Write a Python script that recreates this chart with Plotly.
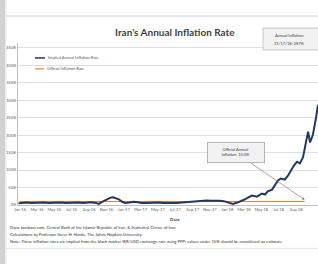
import plotly.graph_objects as go

# ---------------- data ----------------
implied_dates = [
    "2015-12-27", "2016-01-10", "2016-01-25", "2016-02-10", "2016-02-25", "2016-03-10",
    "2016-03-25", "2016-04-10", "2016-04-25", "2016-05-10", "2016-05-25", "2016-06-10",
    "2016-06-25", "2016-07-10", "2016-07-25", "2016-08-10", "2016-08-25", "2016-09-10",
    "2016-09-25", "2016-10-05", "2016-10-15", "2016-10-25", "2016-11-05", "2016-11-15",
    "2016-11-25", "2016-12-05", "2016-12-15", "2016-12-25", "2017-01-05", "2017-01-20",
    "2017-02-05", "2017-02-20", "2017-03-05", "2017-03-20", "2017-04-05", "2017-04-20",
    "2017-05-05", "2017-05-20", "2017-06-05", "2017-06-20", "2017-07-05", "2017-07-20",
    "2017-08-05", "2017-08-20", "2017-09-05", "2017-09-20", "2017-10-05", "2017-10-20",
    "2017-11-05", "2017-11-20", "2017-12-05", "2017-12-20", "2018-01-05", "2018-01-21",
    "2018-02-05", "2018-02-15", "2018-03-01", "2018-03-15", "2018-03-29", "2018-04-16",
    "2018-05-03", "2018-05-14", "2018-05-24", "2018-06-08", "2018-06-18", "2018-06-29",
    "2018-07-09", "2018-07-23", "2018-08-03", "2018-08-14", "2018-08-24", "2018-09-04",
    "2018-09-14", "2018-09-25", "2018-10-05", "2018-10-13", "2018-10-20", "2018-10-30",
    "2018-11-10", "2018-11-17",
]
implied_values = [
    5, 6, 7, 6, 7, 8,
    7, 6, 7, 8, 7, 6,
    7, 8, 7, 6, 7, 8,
    6, 3, 8, 13, 17, 21,
    22, 19, 16, 10, 6, 7,
    9, 8, 6, 6, 7, 6,
    7, 6, 7, 6, 6, 7,
    7, 8, 9, 10, 12, 13,
    12, 13, 12, 11, 8, 3,
    7, 10, 15, 21, 27, 24,
    33, 30, 39, 44, 56, 70,
    76, 73, 84, 101, 113, 124,
    119, 136, 173, 210, 179, 201,
    250, 287,
]

official_dates = [
    "2016-01-01", "2016-02-01", "2016-03-01", "2016-04-01", "2016-05-01", "2016-06-01",
    "2016-07-01", "2016-08-01", "2016-09-01", "2016-10-01", "2016-11-01", "2016-12-01",
    "2017-01-01", "2017-02-01", "2017-03-01", "2017-04-01", "2017-05-01", "2017-06-01",
    "2017-07-01", "2017-08-01", "2017-09-01", "2017-10-01", "2017-11-01", "2017-12-01",
    "2018-01-01", "2018-02-01", "2018-03-01", "2018-04-01", "2018-05-01", "2018-06-01",
    "2018-07-01", "2018-08-01", "2018-09-01", "2018-10-01",
]
official_values = [
    10, 10, 9, 9, 9, 9,
    9, 9, 9, 9, 9, 9,
    9, 9, 9, 9, 9, 9,
    9, 9, 9, 9, 9, 9,
    9, 9, 9, 9, 9, 10,
    10, 10, 10, 10,
]

y_tick_values = [0, 50, 100, 150, 200, 250, 300, 350, 400, 450]
y_tick_labels = ["0%", "50%", "100%", "150%", "200%", "250%", "300%", "350%", "400%", "450%"]
legend_labels = ["Implied Annual Inflation Rate", "Official Inflation Rate"]

title_text = "Iran's Annual Inflation Rate"
latest_box_lines = ["Annual Inflation:", "11/17/18: 287%"]
official_box_lines = ["Official Annual", "Inflation: 10.0%"]
axis_title = "Date"
source_lines = [
    "Data: bonbast.com, Central Bank of the Islamic Republic of Iran, & Statistical Centre of Iran",
    "Calculations by Professor Steve H. Hanke, The Johns Hopkins University.",
    "Note: These inflation rates are implied from the black market IRR/USD exchange rate using PPP; values under 15% should be considered an estimate.",
]

# ---------------- layout helpers ----------------
W, H = 318, 264
L, R, T, B = 18, 0, 43, 58.5
PW, PH = W - L - R, H - T - B
FONT = "Lato, 'Open Sans', sans-serif"


def fx(px):
    return (px - L) / PW


def fy(py):
    return (H - B - py) / PH


fig = go.Figure()
fig.add_trace(go.Scatter(x=official_dates, y=official_values, mode="lines",
                         line=dict(color="#ED7D31", width=1.1), name=legend_labels[1],
                         hoverinfo="skip"))
fig.add_trace(go.Scatter(x=implied_dates, y=implied_values, mode="lines",
                         line=dict(color="#1F3864", width=2), name=legend_labels[0],
                         hoverinfo="skip"))

shapes = []
# page edge bar on the left
shapes.append(dict(type="rect", xref="paper", yref="paper", x0=fx(0), x1=fx(5), y0=fy(H + 2), y1=fy(-2),
                   fillcolor="#d2d2d2", line=dict(width=0), layer="above"))
shapes.append(dict(type="rect", xref="paper", yref="paper", x0=fx(5), x1=fx(6.5), y0=fy(H + 2), y1=fy(-2),
                   fillcolor="#ececec", line=dict(width=0), layer="above"))
# top and bottom separator lines
shapes.append(dict(type="line", xref="paper", yref="paper", x0=fx(6), x1=fx(W + 2), y0=fy(16), y1=fy(16),
                   line=dict(color="#cfcfcf", width=1)))
shapes.append(dict(type="line", xref="paper", yref="paper", x0=fx(6), x1=fx(W + 2), y0=fy(249), y1=fy(249),
                   line=dict(color="#e6e6e6", width=1)))
# top-right box
shapes.append(dict(type="rect", xref="paper", yref="paper", x0=fx(263), x1=fx(W + 5), y0=fy(50), y1=fy(28),
                   fillcolor="#f2f2f2", line=dict(color="#bdbdbd", width=0.8)))
# legend samples
shapes.append(dict(type="line", xref="paper", yref="paper", x0=fx(35), x1=fx(45), y0=fy(58), y1=fy(58),
                   line=dict(color="#1F3864", width=1.5)))
shapes.append(dict(type="line", xref="paper", yref="paper", x0=fx(35), x1=fx(44), y0=fy(69), y1=fy(69),
                   line=dict(color="#ED7D31", width=1.2)))

annotations = []


def txt(px, py, text, size, color="#404040", anchor="center", bold=False):
    annotations.append(dict(xref="paper", yref="paper", x=fx(px), y=fy(py), text=f"<b>{text}</b>" if bold else text,
                            showarrow=False, xanchor=anchor, yanchor="middle",
                            font=dict(family=FONT, size=size, color=color)))


txt(175, 32, title_text, 10, "#3f3f3f", bold=True)
txt(289, 35, latest_box_lines[0], 4, "#404040")
txt(289, 44, latest_box_lines[1], 4, "#404040")
txt(46, 58, legend_labels[0], 4, "#595959", anchor="left")
txt(45, 69, legend_labels[1], 4, "#595959", anchor="left")
txt(175, 220, axis_title, 4.5, "#404040", bold=True)
txt(8, 228, source_lines[0], 4.2, "#333333", anchor="left")
txt(8, 235, source_lines[1], 4.2, "#333333", anchor="left")
txt(8, 242, source_lines[2], 4.2, "#333333", anchor="left")

# callout pointing to the end of the official series
annotations.append(dict(x=official_dates[-1], y=official_values[-1] + 5, xref="x", yref="y",
                        text=official_box_lines[0] + "<br>" + official_box_lines[1],
                        showarrow=True, ax=-69, ay=-47, arrowhead=2, arrowsize=0.7, arrowwidth=0.7,
                        arrowcolor="#7f7f7f", standoff=0,
                        bgcolor="#f2f2f2", bordercolor="#a6a6a6", borderwidth=0.8, borderpad=2,
                        width=52, height=15, align="center",
                        font=dict(family=FONT, size=4, color="#404040")))

fig.update_layout(
    width=W, height=H,
    margin=dict(l=L, r=R, t=T, b=B, pad=0),
    paper_bgcolor="white", plot_bgcolor="white",
    showlegend=False,
    shapes=shapes, annotations=annotations,
    xaxis=dict(type="date", range=["2015-12-25", "2018-11-17"], tick0="2016-01-01", dtick="M2",
               tickformat="%b-%y", tickfont=dict(family=FONT, size=4, color="#595959"),
               showgrid=False, showline=True, linecolor="#bfbfbf", linewidth=1, ticks="",
               zeroline=False, automargin=False, fixedrange=True),
    yaxis=dict(range=[0, 464], tickvals=y_tick_values, ticktext=y_tick_labels,
               tickfont=dict(family=FONT, size=4, color="#595959"),
               showgrid=True, gridcolor="#dedede", gridwidth=0.8,
               showline=True, linecolor="#bfbfbf", linewidth=1, ticks="",
               zeroline=False, automargin=False, fixedrange=True),
)

fig.write_html("out.html", config={"displayModeBar": False},
               post_script="document.body.style.margin='0';document.body.style.overflow='hidden';")
